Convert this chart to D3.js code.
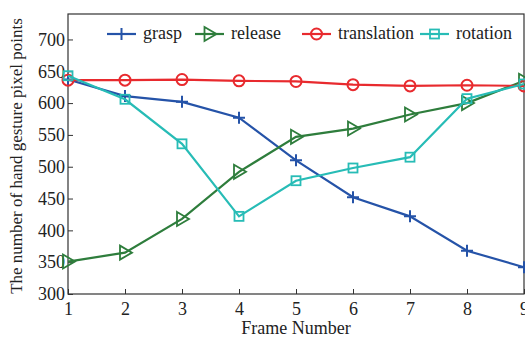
<!DOCTYPE html>
<html lang="en">
<head>
  <meta charset="UTF-8">
  <title>Hand gesture pixel points</title>
  <script src="https://d3js.org/d3.v7.min.js"></script>
  <style>
    body { margin: 0; background: #fff; }
    text { font-family: 'Liberation Serif', 'DejaVu Serif', serif; fill: #222; }
    .frame { fill: none; stroke: #333; stroke-width: 1.2px; }
    .axis path { display: none; }
    .axis line { stroke: #333; }
    .axis text { font-size: 18px; }
  </style>
</head>
<body>
  <div id="chart"></div>
  <script>
    // frame numbers and the four series
    const frames = [1, 2, 3, 4, 5, 6, 7, 8, 9];
    const grasp = [637, 611, 602, 577, 510, 452, 422, 368, 342];
    const release = [351, 365, 418, 492, 547, 560, 582, 600, 635];
    const translation = [636, 636, 637, 635, 634, 629, 627, 628, 627];
    const rotation = [643, 606, 536, 422, 478, 498, 515, 607, 630];
    const yTicks = [300, 350, 400, 450, 500, 550, 600, 650, 700];

    const series = [
      { name: 'grasp', values: grasp, color: '#2553a8', marker: 'plus' },
      { name: 'release', values: release, color: '#2e7d3c', marker: 'tri' },
      { name: 'translation', values: translation, color: '#e82a2e', marker: 'circle' },
      { name: 'rotation', values: rotation, color: '#27bcb6', marker: 'square' }
    ];

    const width = 525, height = 338;
    const margin = { top: 14, right: 1, bottom: 44, left: 68 };

    const svg = d3.select('#chart').append('svg')
      .attr('width', width)
      .attr('height', height);

    const x = d3.scaleLinear().domain([1, 9]).range([margin.left, width - margin.right]);
    const y = d3.scaleLinear().domain([300, 740]).range([height - margin.bottom, margin.top]);

    // axes with inward ticks
    svg.append('g')
      .attr('class', 'axis')
      .attr('transform', `translate(0,${height - margin.bottom})`)
      .call(d3.axisBottom(x).tickValues(frames).tickSize(-5).tickPadding(8).tickFormat(d3.format('d')));

    svg.append('g')
      .attr('class', 'axis')
      .attr('transform', `translate(${margin.left},0)`)
      .call(d3.axisLeft(y).tickValues(yTicks).tickSize(-5).tickPadding(3));

    svg.append('rect')
      .attr('class', 'frame')
      .attr('x', margin.left)
      .attr('y', margin.top)
      .attr('width', width - margin.right - margin.left)
      .attr('height', height - margin.bottom - margin.top);

    function drawMarker(g, type, cx, cy, color) {
      if (type === 'plus') {
        g.append('path')
          .attr('d', `M${cx - 6},${cy}H${cx + 6}M${cx},${cy - 6}V${cy + 6}`)
          .attr('stroke', color).attr('stroke-width', 2).attr('fill', 'none');
      } else if (type === 'tri') {
        g.append('path')
          .attr('d', `M${cx - 5},${cy - 7}L${cx + 7},${cy}L${cx - 5},${cy + 7}Z`)
          .attr('stroke', color).attr('stroke-width', 1.8).attr('fill', 'none');
      } else if (type === 'circle') {
        g.append('circle')
          .attr('cx', cx).attr('cy', cy).attr('r', 5.5)
          .attr('stroke', color).attr('stroke-width', 2).attr('fill', 'none');
      } else {
        g.append('rect')
          .attr('x', cx - 4.5).attr('y', cy - 4.5).attr('width', 9).attr('height', 9)
          .attr('stroke', color).attr('stroke-width', 1.8).attr('fill', 'none');
      }
    }

    const line = d3.line()
      .x((d, i) => x(frames[i]))
      .y(d => y(d));

    series.forEach(s => {
      const g = svg.append('g');
      g.append('path')
        .datum(s.values)
        .attr('d', line)
        .attr('fill', 'none')
        .attr('stroke', s.color)
        .attr('stroke-width', 2.2);
      s.values.forEach((v, i) => drawMarker(g, s.marker, x(frames[i]), y(v), s.color));
    });

    // legend
    const legendX = [107, 195, 302, 420];
    series.forEach((s, i) => {
      const g = svg.append('g');
      const lx = legendX[i], ly = 34;
      g.append('line')
        .attr('x1', lx).attr('x2', lx + 29)
        .attr('y1', ly).attr('y2', ly)
        .attr('stroke', s.color).attr('stroke-width', 2.2);
      drawMarker(g, s.marker, lx + 14.5, ly, s.color);
      g.append('text')
        .attr('x', lx + 36).attr('y', ly + 5)
        .attr('font-size', 18)
        .text(s.name);
    });

    // axis titles
    svg.append('text')
      .attr('x', (margin.left + width - margin.right) / 2)
      .attr('y', 334)
      .attr('text-anchor', 'middle')
      .attr('font-size', 18)
      .text('Frame Number');

    svg.append('text')
      .attr('transform', `translate(22,${(margin.top + height - margin.bottom) / 2 + 2}) rotate(-90)`)
      .attr('text-anchor', 'middle')
      .attr('font-size', 17)
      .text('The number of hand gesture pixel points');
  </script>
</body>
</html>
